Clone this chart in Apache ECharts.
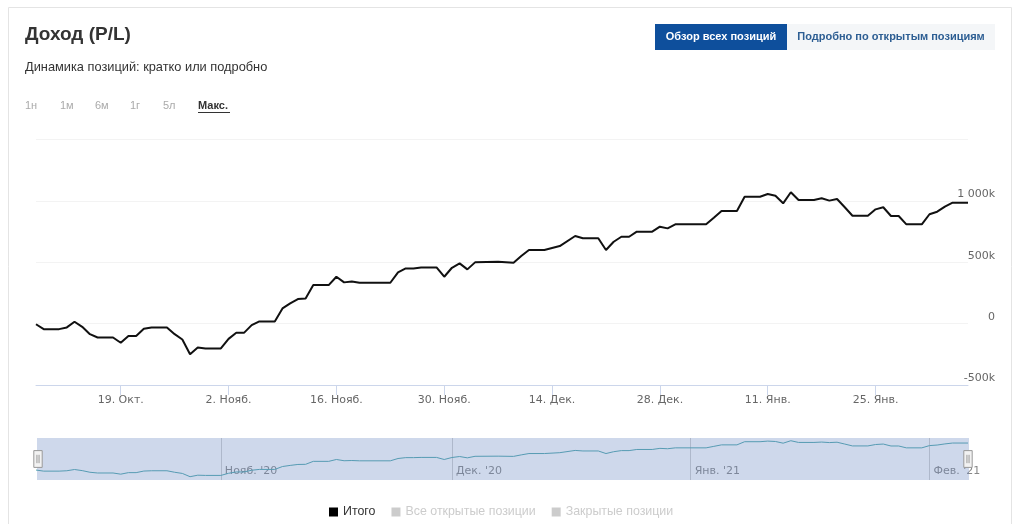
<!DOCTYPE html>
<html><head><meta charset="utf-8">
<script src="https://cdn.jsdelivr.net/npm/echarts@6/dist/echarts.min.js"></script>
<style>html,body{margin:0;padding:0;background:#fff;}#c{width:1024px;height:524px;}</style>
</head><body><div id="c"></div>
<script>
// ---------- data ----------
const dates = [
 '2020-10-08','2020-10-09','2020-10-11','2020-10-12','2020-10-13','2020-10-14','2020-10-15','2020-10-16','2020-10-18','2020-10-19',
 '2020-10-20','2020-10-21','2020-10-22','2020-10-23','2020-10-25','2020-10-26','2020-10-27','2020-10-28','2020-10-29','2020-10-30',
 '2020-11-01','2020-11-02','2020-11-03','2020-11-04','2020-11-05','2020-11-06','2020-11-08','2020-11-09','2020-11-10','2020-11-11',
 '2020-11-12','2020-11-13','2020-11-15','2020-11-16','2020-11-17','2020-11-18','2020-11-19','2020-11-23','2020-11-24','2020-11-25',
 '2020-11-26','2020-11-27','2020-11-29','2020-11-30',
 '2020-12-01','2020-12-02','2020-12-03','2020-12-04','2020-12-07','2020-12-09','2020-12-10','2020-12-11','2020-12-13','2020-12-15',
 '2020-12-17','2020-12-18','2020-12-20','2020-12-21','2020-12-22','2020-12-23','2020-12-24','2020-12-25','2020-12-27','2020-12-28',
 '2020-12-29','2020-12-30',
 '2021-01-03','2021-01-04','2021-01-05','2021-01-07','2021-01-08','2021-01-10','2021-01-11','2021-01-12','2021-01-13','2021-01-14',
 '2021-01-15','2021-01-17','2021-01-18','2021-01-19','2021-01-20','2021-01-21','2021-01-22','2021-01-24','2021-01-25','2021-01-26',
 '2021-01-27','2021-01-28','2021-01-29','2021-01-31',
 '2021-02-01','2021-02-02','2021-02-03','2021-02-04','2021-02-06'
];
const pnl = [
 -5000,-45000,-45000,-31000,15000,-26000,-86000,-113000,-113000,-156000,
 -100000,-100000,-42000,-31000,-31000,-86000,-129000,-249000,-194000,-202000,
 -202000,-124000,-75000,-75000,-12000,18000,18000,124000,165000,200000,
 205000,314000,314000,382000,336000,344000,333000,333000,418000,450000,
 450000,458000,458000,382000,
 455000,491000,442000,499000,504000,496000,551000,600000,600000,632000,
 714000,695000,695000,600000,667000,708000,708000,749000,749000,790000,
 776000,809000,
 809000,863000,918000,918000,1034000,1034000,1056000,1042000,980000,1070000,
 1007000,1007000,1021000,1002000,1015000,948000,879000,879000,931000,948000,
 877000,877000,809000,809000,
 891000,912000,953000,985000,985000
];
const xStart = '2020-10-08', xEnd = '2021-02-06';
const tickDates  = ['2020-10-19','2020-11-02','2020-11-16','2020-11-30','2020-12-14','2020-12-28','2021-01-11','2021-01-25'];
const tickLabels = ['19. Окт.','2. Нояб.','16. Нояб.','30. Нояб.','14. Дек.','28. Дек.','11. Янв.','25. Янв.'];
const navDates  = ['2020-11-01','2020-12-01','2021-01-01','2021-02-01'];
const navLabels = ["Нояб. '20","Дек. '20","Янв. '21","Фев. '21"];
const yTicks  = [-500000, 0, 500000, 1000000, 1500000];
const yLabels = ['-500k', '0', '500k', '1 000k', ''];
const seriesNames = ['Итого', 'Все открытые позиции', 'Закрытые позиции'];
const rangeButtons = ['1н', '1м', '6м', '1г', '5л', 'Макс.'];
const titleText = 'Доход (P/L)';
const subtitleText = 'Динамика позиций: кратко или подробно';
const tabLabels = ['Обзор всех позиций', 'Подробно по открытым позициям'];

// ---------- helpers ----------
function ts(s){ const p = s.split('-'); return Date.UTC(+p[0], +p[1]-1, +p[2]); }
const FONT = '"Liberation Sans", Arial, sans-serif';
const AXFONT = '"DejaVu Sans", Verdana, sans-serif';
const tickTs = tickDates.map(ts);
const navTs = navDates.map(ts);
const lineData = dates.map((d, i) => [ts(d), pnl[i]]);

// layout of header pieces
const btnX = [25, 60, 95, 130, 163, 198];
const graphics = [
  { type:'rect', z:-10, shape:{x:8.5, y:7.5, width:1003, height:600}, style:{fill:'none', stroke:'#e4e4e4', lineWidth:1} },
  { type:'text', x:25, y:35, style:{text:titleText, font:'bold 19px '+FONT, fill:'#333', verticalAlign:'middle'} },
  { type:'text', x:25, y:67, style:{text:subtitleText, font:'12.8px '+FONT, fill:'#333', verticalAlign:'middle'} },
  { type:'rect', shape:{x:655, y:24, width:132, height:26}, style:{fill:'#0e4f9c'} },
  { type:'text', x:721, y:37, style:{text:tabLabels[0], font:'bold 11px '+FONT, fill:'#fff', align:'center', verticalAlign:'middle'} },
  { type:'rect', shape:{x:787, y:24, width:208, height:26}, style:{fill:'#f4f6f8'} },
  { type:'text', x:891, y:37, style:{text:tabLabels[1], font:'bold 11px '+FONT, fill:'#2d5e93', align:'center', verticalAlign:'middle'} }
];
rangeButtons.forEach((t, i) => {
  const last = i === rangeButtons.length - 1;
  graphics.push({ type:'text', x:btnX[i], y:106, style:{text:t, font:(last?'bold ':'')+'11px '+FONT, fill: last ? '#333' : '#aaa', verticalAlign:'middle'} });
  if (last) graphics.push({ type:'line', shape:{x1:btnX[i], y1:112.5, x2:btnX[i]+32, y2:112.5}, style:{stroke:'#333', lineWidth:1} });
});

const chart = echarts.init(document.getElementById('c'), null, {renderer:'canvas'});
chart.setOption({
  animation: false,
  backgroundColor: '#fff',
  textStyle: { fontFamily: FONT },
  graphic: graphics,
  legend: {
    data: seriesNames,
    left: 324, top: 501,
    icon: 'rect', itemWidth: 9, itemHeight: 9, itemGap: 16,
    textStyle: { fontSize: 12.4, color: '#333', fontFamily: FONT },
    inactiveColor: '#cccccc',
    selected: { [seriesNames[1]]: false, [seriesNames[2]]: false }
  },
  grid: [
    { left: 36, right: 56, top: 139.5, bottom: 139 },
    { left: 36, right: 56, top: 438, height: 42 }
  ],
  xAxis: [
    { type:'value', gridIndex:0, min: ts(xStart), max: ts(xEnd),
      axisLine:{ show:true, onZero:false, lineStyle:{color:'#ccd6eb'} },
      axisTick:{ show:true, length:10, customValues: tickTs, lineStyle:{color:'#ccd6eb'} },
      axisLabel:{ customValues: tickTs, margin: 10, color:'#666', fontSize: 11, fontFamily: AXFONT,
        formatter: v => { const i = tickTs.indexOf(v); return i >= 0 ? tickLabels[i] : ''; } },
      splitLine:{ show:false } },
    { type:'value', gridIndex:1, min: ts(xStart), max: ts(xEnd),
      axisLine:{ show:false, onZero:false },
      axisTick:{ show:false, customValues: navTs },
      axisLabel:{ customValues: navTs, inside:true, margin: 3, align:'left', padding:[0,0,0,4], color:'#888', fontSize: 11, fontFamily: AXFONT,
        formatter: v => { const i = navTs.indexOf(v); return i >= 0 ? navLabels[i] : ''; } },
      splitLine:{ show:true, lineStyle:{color:'#d0d0d0'} } }
  ],
  yAxis: [
    { type:'value', gridIndex:0, position:'right', min: yTicks[0], max: yTicks[yTicks.length-1], interval: 500000,
      axisLine:{show:false}, axisTick:{show:false},
      splitLine:{ show:true, lineStyle:{color:'#f3f3f3'} },
      axisLabel:{ align:'right', margin: 27, verticalAlign:'bottom', padding:[0,0,1,0], color:'#666', fontSize: 11, fontFamily: AXFONT,
        formatter: v => { const i = yTicks.indexOf(v); return i >= 0 ? yLabels[i] : ''; } } },
    { type:'value', gridIndex:1, min: -370000, max: 1170000, show:false }
  ],
  dataZoom: [{
    type:'slider', xAxisIndex:0, filterMode:'none', start:0, end:100,
    left:36, right:56, top:438, height:42,
    backgroundColor:'rgba(0,0,0,0)', fillerColor:'rgba(102,133,194,0.32)', borderColor:'rgba(0,0,0,0)',
    showDataShadow:false, showDetail:false, brushSelect:false, moveHandleSize:0,
    handleIcon:'path://M0,0H8V16H0Z M3,4V12 M5,4V12',
    handleSize:'40%',
    handleStyle:{ color:'#f2f2f2', borderColor:'#999', borderWidth:1 },
    dataBackground:{ lineStyle:{opacity:0}, areaStyle:{opacity:0} }
  }],
  series: [
    { name: seriesNames[0], type:'line', xAxisIndex:0, yAxisIndex:0, data: lineData, symbol:'none',
      color:'#000', lineStyle:{ color:'#111', width:2 }, z:3 },
    { name: seriesNames[1], type:'line', xAxisIndex:0, yAxisIndex:0, data: [], symbol:'none', color:'#ccc' },
    { name: seriesNames[2], type:'line', xAxisIndex:0, yAxisIndex:0, data: [], symbol:'none', color:'#ccc' },
    { name: 'nav', type:'line', xAxisIndex:1, yAxisIndex:1, data: lineData, symbol:'none', silent:true,
      lineStyle:{ color:'#4fa6ad', width:1 } }
  ]
});
</script></body></html>
